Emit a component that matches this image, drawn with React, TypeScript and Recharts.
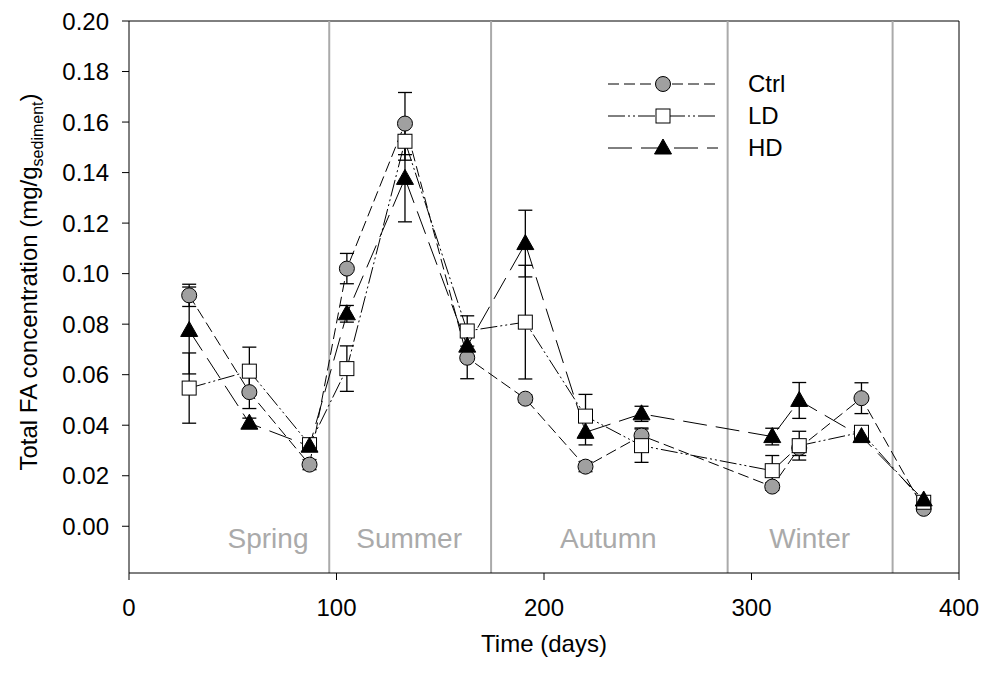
import React from 'react';
import { LineChart, Line, XAxis, YAxis, ErrorBar, ReferenceLine, ReferenceDot, Legend } from 'recharts';

const days = [29, 58, 87, 105, 133, 163, 191, 220, 247, 310, 323, 353, 383];

const ctrl = [0.0914, 0.0531, 0.0244, 0.102, 0.1594, 0.0667, 0.0505, 0.0236, 0.0359, 0.0157, 0.031, 0.0507, 0.0069];
const ctrlErr = [0.0044, 0.0065, 0.002, 0.006, 0.0123, 0.0083, 0.0015, 0.002, 0.003, 0.0015, 0.003, 0.0061, 0.001];

const ld = [0.0547, 0.0614, 0.0323, 0.0624, 0.1524, 0.0773, 0.0808, 0.0436, 0.0319, 0.022, 0.0319, 0.0372, 0.0095];
const ldErr = [0.0139, 0.0095, 0.002, 0.009, 0.0075, 0.006, 0.0225, 0.0086, 0.0066, 0.006, 0.0057, 0.002, 0.001];

const hd = [0.0775, 0.0408, 0.0317, 0.0841, 0.1377, 0.0713, 0.1119, 0.0372, 0.0445, 0.0355, 0.0498, 0.0355, 0.0104];
const hdErr = [0.0172, 0.002, 0.002, 0.0033, 0.0172, 0.004, 0.0132, 0.005, 0.003, 0.0033, 0.0071, 0.002, 0.001];

const seasonBounds = [96.5, 174.5, 288.5, 368];
const seasonNames = ['Spring', 'Summer', 'Autumn', 'Winter'];
const seasonCenters = [67, 135, 231, 328];

const xTicks = [0, 100, 200, 300, 400];
const yTicks = [0, 0.02, 0.04, 0.06, 0.08, 0.1, 0.12, 0.14, 0.16, 0.18, 0.2];

const data = days.map((d, i) => ({
    day: d,
    ctrl: ctrl[i], ctrlErr: ctrlErr[i],
    ld: ld[i], ldErr: ldErr[i],
    hd: hd[i], hdErr: hdErr[i],
}));

const FONT = '"Liberation Sans", Arial, sans-serif';

// marker shapes
const circleMark = (cx: number, cy: number) => (
    <circle cx={cx} cy={cy} r={7.5} fill="#a0a0a0" stroke="#000" strokeWidth={1} />
);
const squareMark = (cx: number, cy: number) => (
    <rect x={cx - 7} y={cy - 7} width={14} height={14} fill="#fff" stroke="#000" strokeWidth={1} />
);
const triangleMark = (cx: number, cy: number) => (
    <polygon points={`${cx},${cy - 9} ${cx + 8.5},${cy + 6} ${cx - 8.5},${cy + 6}`} fill="#000" stroke="#000" strokeWidth={1} />
);

const series = [
    { key: 'ctrl', name: 'Ctrl', dash: '11 5', mark: circleMark },
    { key: 'ld', name: 'LD', dash: '17 3 2 3 2 3', mark: squareMark },
    { key: 'hd', name: 'HD', dash: '24 9', mark: triangleMark },
];

const makeDot = (mark: (cx: number, cy: number) => React.ReactElement) => (props: any) => {
    const { cx, cy, key } = props;
    if (cx == null || cy == null) return <g key={key} />;
    return <g key={key}>{mark(cx, cy)}</g>;
};

const LegendBox = () => (
    <svg width={220} height={110} style={{ fontFamily: FONT }}>
        {series.map((s, i) => {
            const y = 17 + i * 32;
            return (
                <g key={s.key}>
                    <line x1={8} x2={118} y1={y} y2={y} stroke="#000" strokeWidth={1} strokeDasharray={s.dash} />
                    {s.mark(63, y)}
                    <text x={148} y={y + 8} fontSize={24} fill="#000">{s.name}</text>
                </g>
            );
        })}
    </svg>
);

const YTitle = () => (
    <text transform="translate(37,282) rotate(-90)" textAnchor="middle" fontSize={24} fill="#000" style={{ fontFamily: FONT }}>
        Total FA concentration (mg/g<tspan fontSize={16} dy={6}>sediment</tspan><tspan dy={-6}>)</tspan>
    </text>
);

const XTitle = () => (
    <text x={544} y={652} textAnchor="middle" fontSize={24} fill="#000" style={{ fontFamily: FONT }}>
        Time (days)
    </text>
);

export default function App() {
    return (
        <div style={{ width: 987, height: 674, fontFamily: FONT }}>
            <style>{'body{margin:0}'}</style>
            <LineChart width={987} height={674} data={data} margin={{ top: 21, right: 28, left: 0, bottom: 0 }}>
                <XAxis
                    dataKey="day"
                    type="number"
                    domain={[0, 400]}
                    ticks={xTicks}
                    height={101}
                    tickSize={7}
                    tickMargin={19}
                    stroke="#000"
                    tick={{ fill: '#000', fontSize: 24, fontFamily: FONT }}
                    label={<XTitle />}
                />
                <YAxis
                    type="number"
                    domain={[-0.0185, 0.2]}
                    ticks={yTicks}
                    width={129}
                    tickSize={7}
                    tickMargin={13}
                    stroke="#000"
                    allowDataOverflow
                    tickFormatter={(v: number) => v.toFixed(2)}
                    tick={{ fill: '#000', fontSize: 24, fontFamily: FONT }}
                    label={<YTitle />}
                />
                <ReferenceLine y={0.2} stroke="#000" strokeWidth={1} />
                <ReferenceLine x={400} stroke="#000" strokeWidth={1} />
                {seasonBounds.map((b) => (
                    <ReferenceLine key={b} x={b} stroke="#aaa" strokeWidth={2} />
                ))}
                {seasonNames.map((n, i) => (
                    <ReferenceDot
                        key={n}
                        x={seasonCenters[i]}
                        y={-0.0045}
                        r={0}
                        fill="none"
                        stroke="none"
                        label={{ value: n, position: 'center', fill: '#aaa', fontSize: 28, fontFamily: FONT }}
                    />
                ))}
                {series.map((s) => (
                    <Line
                        key={s.key}
                        dataKey={s.key}
                        name={s.name}
                        type="linear"
                        stroke="#000"
                        strokeWidth={1}
                        strokeDasharray={s.dash}
                        dot={makeDot(s.mark)}
                        activeDot={false}
                        isAnimationActive={false}
                    >
                        <ErrorBar dataKey={`${s.key}Err`} width={7} stroke="#000" strokeWidth={1.3} />
                    </Line>
                ))}
                <Legend
                    layout="horizontal"
                    verticalAlign="middle"
                    align="center"
                    content={<LegendBox />}
                    wrapperStyle={{ position: 'absolute', left: 600, top: 67, width: 220, height: 110 }}
                />
            </LineChart>
        </div>
    );
}
